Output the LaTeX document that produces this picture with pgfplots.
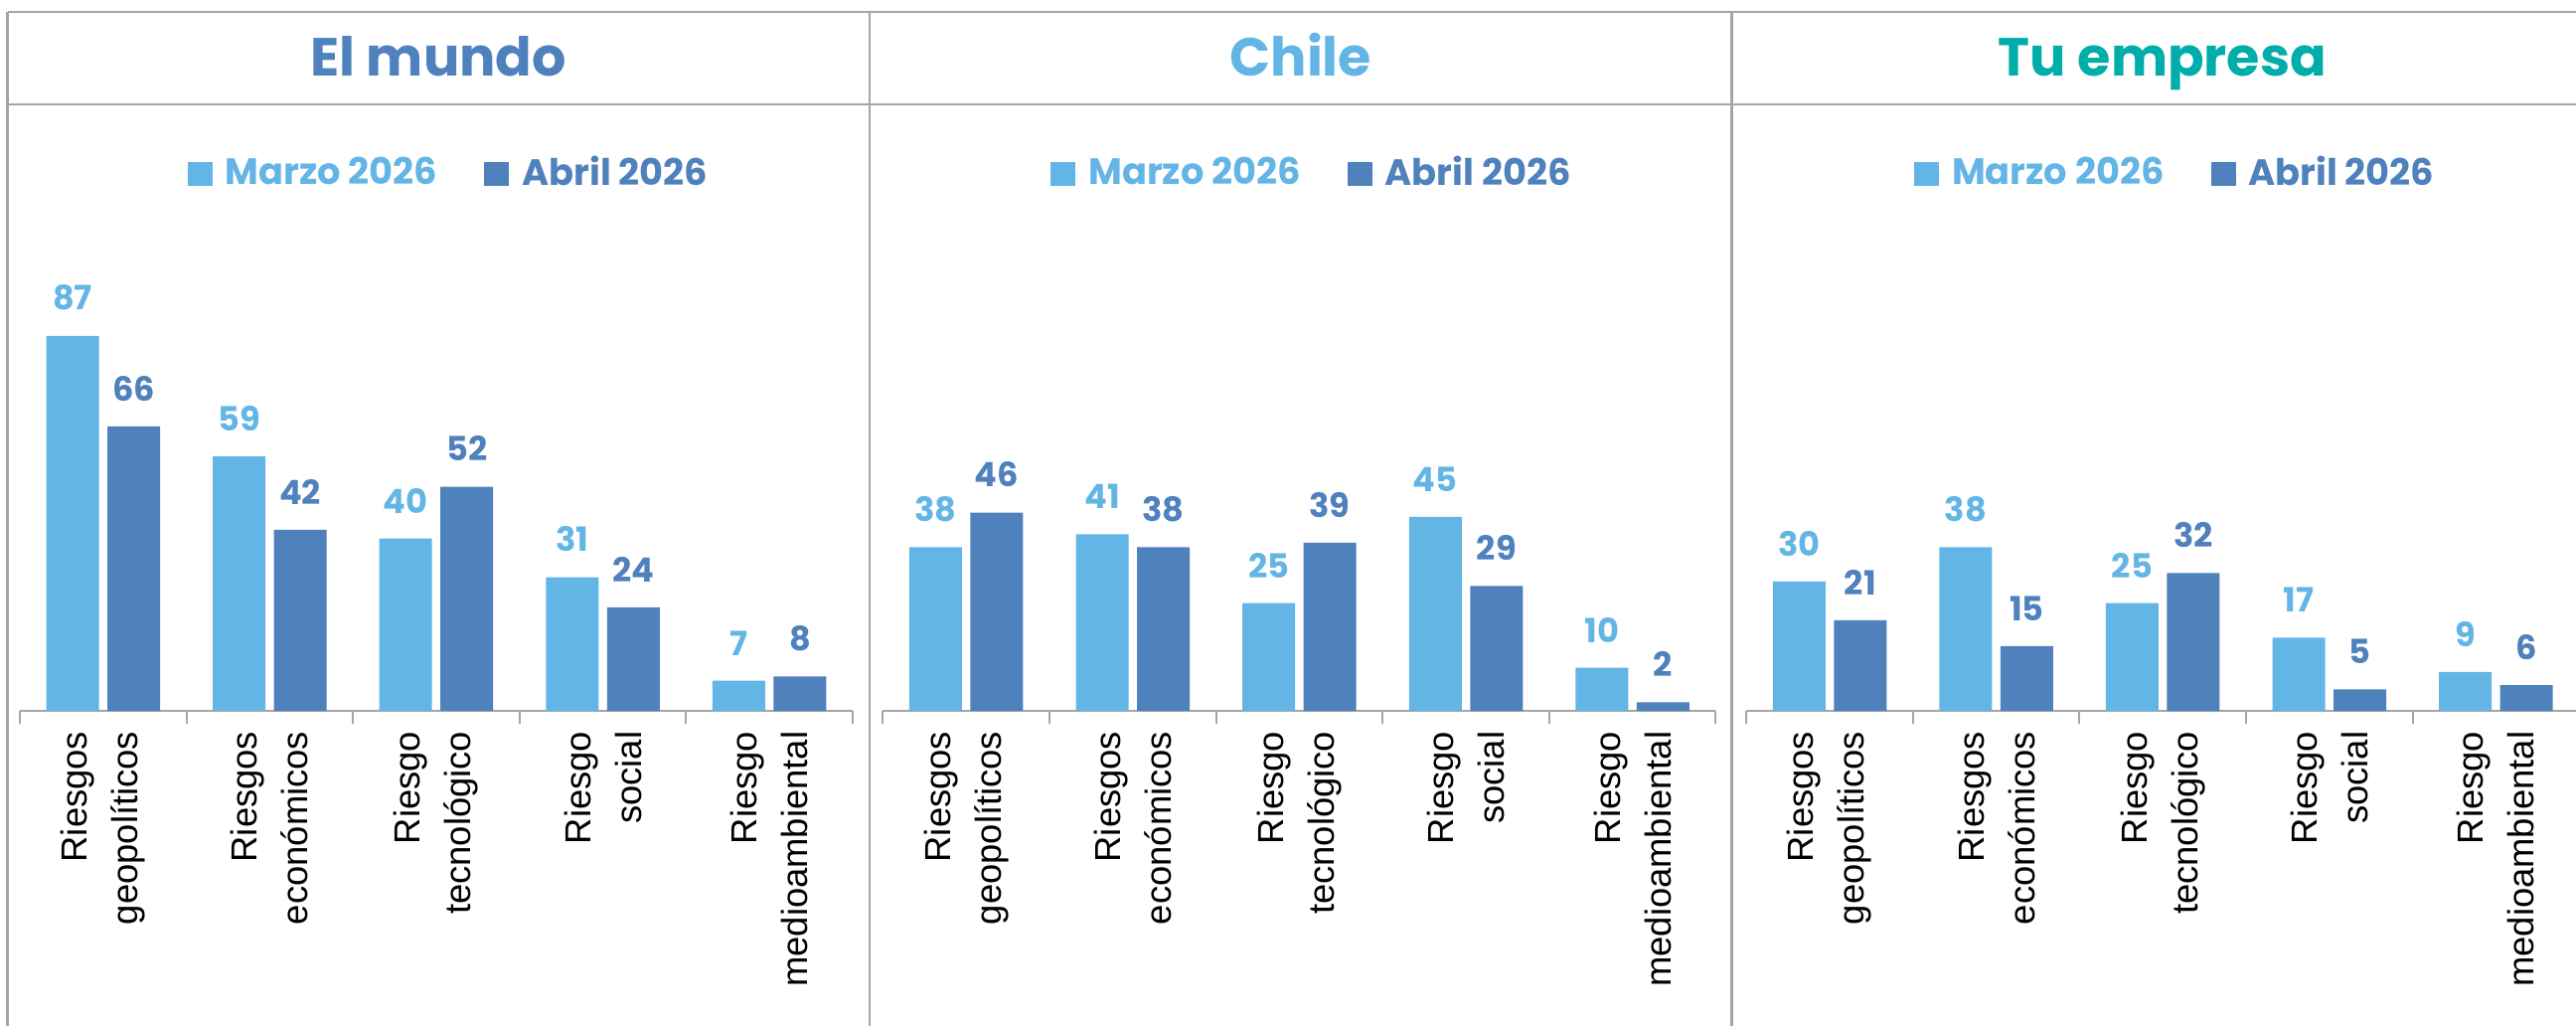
\documentclass[border=0pt]{standalone}
\usepackage{pgfplots}
\pgfplotsset{compat=1.18}
\usepackage{fontspec}
\setmainfont{Poppins}
\newfontfamily\labfont{Liberation Sans}
\definecolor{lb}{HTML}{63B5E5}
\definecolor{db}{HTML}{4F81BD}
\definecolor{tealc}{HTML}{00ADAA}
\definecolor{linec}{HTML}{A5A5A5}
\pgfplotsset{
  panel/.style={
    scale only axis, width=209.5pt, height=108.375pt,
    anchor=south west,
    ymin=0, ymax=100, xmin=-0.5, xmax=4.5,
    axis x line=bottom, axis y line=none,
    x axis line style={draw=linec, line width=0.5pt, -},
    ybar=2.125pt, bar width=13.25pt,
    xtick={0,...,4},
    xticklabels={{Riesgos\\geopolíticos},{Riesgos\\económicos},{Riesgo\\tecnológico},{Riesgo\\social},{Riesgo\\medioambiental}},
    major tick length=0pt,
    minor xtick={-0.5,0.5,1.5,2.5,3.5,4.5},
    minor tick length=3.25pt,
    tick align=outside,
    tick style={draw=linec, line width=0.5pt},
    xticklabel style={rotate=90, anchor=east, align=right, font=\labfont\fontsize{9.1}{12.75}\selectfont, inner sep=0pt, text=black},
    xticklabel shift=5pt,
    clip=false,
    /pgf/number format/assume math mode=true,
    nodes near coords,
    every node near coord/.append style={font=\bfseries\fontsize{8.4}{10}\selectfont, inner sep=0pt, anchor=south, yshift=6.2pt},
    legend style={at={(0.5185,1.2457)}, anchor=center, draw=none, fill=none,
      legend columns=2, font=\bfseries\fontsize{9.2}{11}\selectfont,
      /tikz/every even column/.append style={column sep=9.75pt}},
  },
  marzo/.style={fill=lb, draw=none,
    every node near coord/.append style={text=lb},
    legend image code/.code={\fill[##1] (0pt,-3.1pt) rectangle (6.25pt,3.1pt); \path (0pt,0pt) -- (7.5pt,0pt);}},
  abril/.style={fill=db, draw=none,
    every node near coord/.append style={text=db},
    legend image code/.code={\fill[##1] (0pt,-3.1pt) rectangle (6.25pt,3.1pt); \path (0pt,0pt) -- (7.5pt,0pt);}},
}
\begin{document}
\begin{tikzpicture}
\path[use as bounding box] (0pt,0pt) rectangle (648pt,258pt);
% table lines
\draw[linec, line width=0.6pt] (1.875pt,255pt) -- (648pt,255pt);
\draw[linec, line width=0.6pt] (1.875pt,231.75pt) -- (648pt,231.75pt);
\draw[linec, line width=0.6pt] (1.875pt,0pt) -- (1.875pt,255pt);
\draw[linec, line width=0.6pt] (218.75pt,0pt) -- (218.75pt,255pt);
\draw[linec, line width=0.6pt] (435.6pt,0pt) -- (435.6pt,255pt);
% titles
\node[anchor=base, font=\bfseries\fontsize{13.5}{16}\selectfont, text=db] at (110.3pt,239pt) {El mundo};
\node[anchor=base, font=\bfseries\fontsize{13.5}{16}\selectfont, text=lb] at (327.2pt,239pt) {Chile};
\node[anchor=base, font=\bfseries\fontsize{13.5}{16}\selectfont, text=tealc] at (544pt,239pt) {Tu empresa};
% panel 1
\begin{axis}[panel, at={(5pt,79.25pt)}]
\addplot[marzo] coordinates {(0,87) (1,59) (2,40) (3,31) (4,7)};
\addplot[abril] coordinates {(0,66) (1,42) (2,52) (3,24) (4,8)};
\addlegendentry{\textcolor{lb}{Marzo 2026}}
\addlegendentry{\textcolor{db}{Abril 2026}}
\end{axis}
% panel 2
\begin{axis}[panel, at={(222.1pt,79.25pt)}]
\addplot[marzo] coordinates {(0,38) (1,41) (2,25) (3,45) (4,10)};
\addplot[abril] coordinates {(0,46) (1,38) (2,39) (3,29) (4,2)};
\addlegendentry{\textcolor{lb}{Marzo 2026}}
\addlegendentry{\textcolor{db}{Abril 2026}}
\end{axis}
% panel 3
\begin{axis}[panel, at={(439.3pt,79.25pt)}]
\addplot[marzo] coordinates {(0,30) (1,38) (2,25) (3,17) (4,9)};
\addplot[abril] coordinates {(0,21) (1,15) (2,32) (3,5) (4,6)};
\addlegendentry{\textcolor{lb}{Marzo 2026}}
\addlegendentry{\textcolor{db}{Abril 2026}}
\end{axis}
\end{tikzpicture}
\end{document}
